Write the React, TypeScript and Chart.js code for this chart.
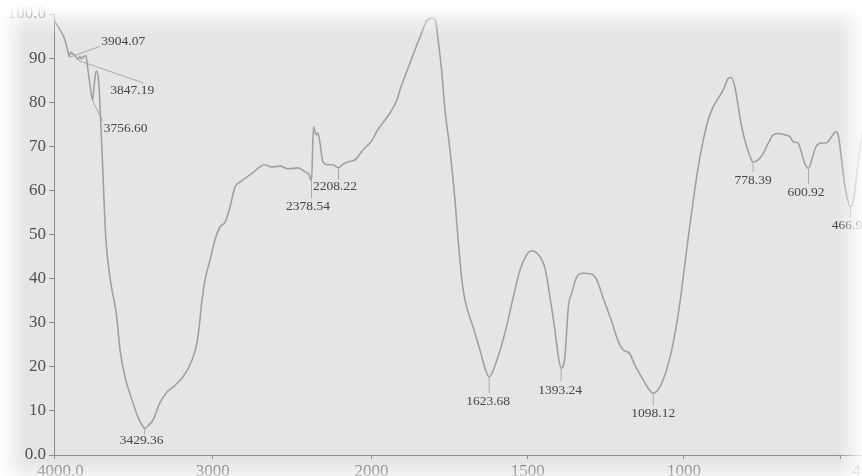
import React, { useEffect, useRef } from "react";
import { Chart, LinearScale, registerables } from "chart.js";

Chart.register(...registerables);

// ---------- data ----------
const wavenumbers = [
  4000, 3962, 3930, 3918, 3912, 3904.07, 3895, 3878, 3861, 3847.19, 3838, 3828, 3815, 3798,
  3792, 3773, 3756.6, 3748, 3736, 3729, 3717, 3710, 3698, 3685, 3673, 3654, 3635, 3616, 3603,
  3584, 3553, 3509, 3471, 3452, 3429.36, 3408, 3377, 3333, 3288, 3251, 3188, 3131, 3100, 3081,
  3068, 3049, 3018, 2986, 2955, 2923, 2892, 2860, 2829, 2766, 2671, 2627, 2577, 2526, 2464,
  2419, 2394, 2378.54, 2366, 2350, 2338, 2325, 2306, 2275, 2243, 2208.22, 2186, 2155, 2105,
  2054, 2000, 1984, 1941, 1919, 1909, 1877, 1845, 1822, 1806, 1796, 1787, 1775, 1765, 1749,
  1733, 1723, 1711, 1701, 1675, 1653, 1637, 1623.68, 1599, 1573, 1546, 1525, 1503, 1487, 1471,
  1445, 1429, 1413, 1402, 1393.24, 1381, 1370, 1359, 1343, 1322, 1295, 1279, 1258, 1231, 1210,
  1194, 1175, 1157, 1130, 1112, 1098.12, 1071, 1044, 1025, 1010, 1003, 987, 970, 954, 938, 922,
  906, 890, 874, 858, 849, 837, 826, 815, 799, 786, 778.39, 762, 746, 730, 714, 698, 677, 661,
  650, 634, 623, 613, 600.92, 591, 577, 564, 543, 527, 514, 505, 495, 484, 466.9, 457, 441, 430,
  415, 400,
];
const transmittance = [
  98.6, 96.4, 94.0, 92.3, 91.5, 90.4, 91.3, 90.9, 90.2, 89.7, 90.4, 89.8, 90.3, 90.5,
  88.9, 83.9, 80.5, 83.5, 86.8, 87.0, 83.9, 78.9, 69.2, 57.8, 48.8, 42.0, 37.4, 34.0, 30.6,
  23.8, 17.7, 12.5, 8.6, 7.2, 6.1, 6.6, 7.9, 11.8, 14.3, 15.4, 17.7, 21.5, 25.4, 30.6,
  35.1, 39.7, 44.2, 48.8, 51.7, 52.8, 56.2, 60.8, 61.9, 63.5, 65.8, 65.3, 65.5, 64.9, 65.1,
  64.2, 63.6, 62.1, 74.4, 72.6, 73.0, 70.7, 66.4, 65.8, 65.8, 65.1, 65.8, 66.4, 66.9,
  69.2, 71.2, 73.3, 77.6, 80.5, 82.8, 88.9, 94.8, 98.6, 99.1, 98.6, 94.1, 86.6, 78.2, 69.2,
  57.8, 48.8, 39.7, 35.1, 29.0, 23.8, 19.7, 17.7, 21.5, 27.7, 35.9, 41.9, 45.4, 46.3, 45.8,
  42.4, 35.9, 28.3, 22.3, 19.7, 22.3, 33.6, 36.7, 40.4, 41.2, 41.0, 39.7, 35.5, 30.2, 25.7,
  23.8, 23.1, 20.4, 17.0, 14.9, 14.0, 16.3, 22.3, 29.0, 36.0, 40.0, 48.8, 57.8, 65.4, 71.4, 76.0,
  79.0, 80.9, 82.8, 85.4, 85.6, 83.5, 79.0, 74.4, 69.9, 67.3, 66.4, 66.9, 68.4, 70.7, 72.6, 72.9, 72.6, 72.2,
  71.0, 70.7, 68.4, 66.1, 65.0, 66.9, 69.9, 70.7, 70.8, 72.2, 73.3, 72.2, 66.9, 60.8, 56.3, 57.8, 66.9, 72.9,
  76.0, 77.0,
];

const xTicks = [4000, 3000, 2000, 1500, 1000, 500, 400];
const xTickLabels = ["   4000.0", "3000", "2000", "1500", "1000", "", "400.0"];
const yTicks = [0, 10, 20, 30, 40, 50, 60, 70, 80, 90, 100];
const yTickLabels = ["0.0", "10", "20", "30", "40", "50", "60", "70", "80", "90", "100.0"];

const peakWavenumbers = [3904.07, 3847.19, 3756.6, 3429.36, 2378.54, 2208.22, 1623.68, 1393.24, 1098.12, 778.39, 600.92, 466.9];
const peakLabels = ["3904.07", "3847.19", "3756.60", "3429.36", "2378.54", "2208.22", "1623.68", "1393.24", "1098.12", "778.39", "600.92", "466.90"];

// ---------- annotation layout (pixel offsets from the peak) ----------
const leaderEnd: [number, number][] = [
  [31, -10], [65, 23.5], [10, 21], [0, 6], [0, 17], [0, 12], [0, 16], [0, 13], [0, 12], [0, 10], [0, 16], [0, 11],
];
const labelOffset: [number, number][] = [
  [54, -15], [54, 31.5], [33, 28], [-3, 12], [-3.5, 25], [-3.5, 19], [-1, 25], [-1, 22], [0, 20], [0, 18], [-2.5, 24], [0, 19],
];

// ---------- piecewise FTIR axis (2x expansion below 2000) ----------
const BREAK = 0.3886;
function toDecimal(v: number) {
  return v >= 2000 ? ((4000 - v) / 2000) * BREAK : BREAK + ((2000 - v) / 1600) * (1 - BREAK);
}
function fromDecimal(d: number) {
  return d <= BREAK ? 4000 - (d / BREAK) * 2000 : 2000 - ((d - BREAK) / (1 - BREAK)) * 1600;
}
class FtirScale extends LinearScale {
  static id = "ftir";
  getPixelForValue(value: number) {
    return this.getPixelForDecimal(toDecimal(value));
  }
  getValueForPixel(pixel: number) {
    return fromDecimal(this.getDecimalForPixel(pixel));
  }
}
Chart.register(FtirScale as any);

const CANVAS_W = 920;
const CANVAS_H = 476;
const SERIF = "'Liberation Serif', 'Times New Roman', serif";

const bgPlugin = {
  id: "bg",
  beforeDraw(chart: any) {
    const ctx = chart.ctx;
    ctx.save();
    ctx.fillStyle = "#e5e5e5";
    ctx.fillRect(0, 0, chart.width, chart.height);
    ctx.restore();
  },
};

const peaksPlugin = {
  id: "peaks",
  afterDatasetsDraw(chart: any) {
    const ctx = chart.ctx;
    const xs = chart.scales.x;
    const ys = chart.scales.y;
    ctx.save();
    ctx.font = `13.5px ${SERIF}`;
    ctx.textAlign = "center";
    ctx.textBaseline = "middle";
    peakWavenumbers.forEach((wn, i) => {
      const t = transmittance[wavenumbers.indexOf(wn)];
      const px = xs.getPixelForValue(wn);
      const py = ys.getPixelForValue(t);
      ctx.strokeStyle = "#9a9a9a";
      ctx.lineWidth = 0.8;
      ctx.beginPath();
      ctx.moveTo(px, py + 1);
      ctx.lineTo(px + leaderEnd[i][0], py + leaderEnd[i][1]);
      ctx.stroke();
      ctx.fillStyle = "#464646";
      ctx.fillText(peakLabels[i], px + labelOffset[i][0], py + labelOffset[i][1]);
    });
    ctx.restore();
  },
};

const glarePlugin = {
  id: "glare",
  afterDraw(chart: any) {
    const ctx = chart.ctx;
    const w = chart.width;
    const h = chart.height;
    ctx.save();
    let g = ctx.createLinearGradient(0, 0, 0, 36);
    g.addColorStop(0, "rgba(255,255,255,1)");
    g.addColorStop(0.3, "rgba(255,255,255,0.85)");
    g.addColorStop(0.55, "rgba(255,255,255,0.4)");
    g.addColorStop(1, "rgba(255,255,255,0)");
    ctx.fillStyle = g;
    ctx.fillRect(0, 0, w, 36);
    g = ctx.createLinearGradient(0, 0, 26, 0);
    g.addColorStop(0, "rgba(255,255,255,1)");
    g.addColorStop(1, "rgba(255,255,255,0)");
    ctx.fillStyle = g;
    ctx.fillRect(0, 0, 26, h);
    g = ctx.createLinearGradient(838, 0, 862, 0);
    g.addColorStop(0, "rgba(255,255,255,0)");
    g.addColorStop(1, "rgba(255,255,255,0.85)");
    ctx.fillStyle = g;
    ctx.fillRect(838, 0, 24, h);
    ctx.fillStyle = "rgba(255,255,255,0.85)";
    ctx.fillRect(862, 0, w - 862, h);
    g = ctx.createLinearGradient(0, 460, 0, h);
    g.addColorStop(0, "rgba(255,255,255,0)");
    g.addColorStop(1, "rgba(255,255,255,0.55)");
    ctx.fillStyle = g;
    ctx.fillRect(0, 460, w, h - 460);
    ctx.restore();
  },
};

export default function App() {
  const ref = useRef<HTMLCanvasElement | null>(null);
  useEffect(() => {
    const canvas = ref.current;
    if (!canvas) return;
    const chart = new Chart(canvas, {
      type: "line",
      data: {
        datasets: [
          {
            data: wavenumbers.map((w, i) => ({ x: w, y: transmittance[i] })),
            borderColor: "#a0a0a0",
            borderWidth: 1.6,
            pointRadius: 0,
            cubicInterpolationMode: "monotone",
            fill: false,
          },
        ],
      },
      options: {
        animation: false,
        responsive: false,
        layout: { padding: { left: 0, top: 14, right: CANVAS_W - 871.3, bottom: 0 } },
        plugins: { legend: { display: false }, tooltip: { enabled: false } },
        scales: {
          x: {
            type: "ftir" as any,
            min: 400,
            max: 4000,
            afterBuildTicks: (s: any) => {
              s.ticks = xTicks.map((v) => ({ value: v }));
            },
            afterFit: (s: any) => {
              s.height = 21;
              s.paddingLeft = 0;
              s.paddingRight = 0;
            },
            grid: { display: true, drawOnChartArea: false, drawTicks: true, tickLength: 4, color: "#8c8c8c" },
            border: { display: true, color: "#8c8c8c", width: 1 },
            ticks: {
              autoSkip: false,
              maxRotation: 0,
              padding: 2,
              color: "#6e6e6e",
              font: { family: SERIF, size: 17 },
              callback: (_v: any, i: number) => xTickLabels[i],
            },
          },
          y: {
            type: "linear",
            min: 0,
            max: 100,
            afterBuildTicks: (s: any) => {
              s.ticks = yTicks.map((v) => ({ value: v }));
            },
            afterFit: (s: any) => {
              s.width = 54;
              s.paddingTop = 0;
              s.paddingBottom = 0;
            },
            grid: { display: true, drawOnChartArea: false, drawTicks: true, tickLength: 5, color: "#8c8c8c" },
            border: { display: true, color: "#8c8c8c", width: 1 },
            ticks: {
              autoSkip: false,
              padding: 3,
              color: "#505050",
              font: { family: SERIF, size: 17 },
              callback: (_v: any, i: number) => yTickLabels[i],
            },
          },
        },
      },
      plugins: [bgPlugin, peaksPlugin, glarePlugin],
    } as any);
    return () => chart.destroy();
  }, []);
  return (
    <div style={{ position: "fixed", left: 0, top: 0, width: 862, height: 476, overflow: "hidden", background: "#fff" }}>
      <canvas ref={ref} width={CANVAS_W} height={CANVAS_H} style={{ display: "block", width: CANVAS_W, height: CANVAS_H }} />
    </div>
  );
}
